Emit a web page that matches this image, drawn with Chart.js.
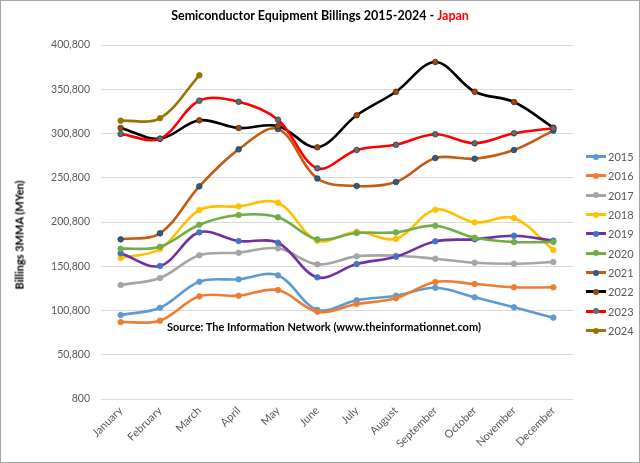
<!DOCTYPE html>
<html>
<head>
<meta charset="utf-8">
<script src="https://cdn.jsdelivr.net/npm/chart.js@4.4.1/dist/chart.umd.min.js"></script>
<style>
    html, body { margin: 0; padding: 0; background: #fff; }
    #wrap { position: relative; width: 640px; height: 463px; overflow: hidden; font-family: Lato, "Open Sans", sans-serif; }
    #chart { position: absolute; left: 0; top: 0; }
    #frame { position: absolute; left: 0; top: 0; width: 640px; height: 463px; box-sizing: border-box; border: 1px solid #a6a6a6; pointer-events: none; }
    #title { position: absolute; left: 0; width: 640px; top: 8px; text-align: center; font-weight: bold; font-size: 12.5px; color: #000; }
    #title .red { color: #ff0000; }
    #source { position: absolute; left: 0; width: 648px; top: 320px; text-align: center; font-weight: bold; font-size: 11px; color: #000; }
    #ytitle { position: absolute; left: 19px; top: 235px; transform: translate(-50%, -50%) rotate(-90deg); white-space: nowrap; font-weight: bold; font-size: 11px; color: #000; }
    #legend { position: absolute; left: 586px; top: 147px; }
    .item { height: 19.33px; display: flex; align-items: center; font-size: 11px; color: #595959; }
    .mark { position: relative; width: 20px; height: 3px; margin-right: 2px; }
    .mark .dot { position: absolute; left: 7px; top: -1.5px; width: 6px; height: 6px; border-radius: 50%; }
</style>
</head>
<body>
<div id="wrap">
    <canvas id="chart" width="640" height="463"></canvas>
    <div id="title">Semiconductor Equipment Billings 2015-2024 - <span class="red">Japan</span></div>
    <div id="source">Source: The Information Network (www.theinformationnet.com)</div>
    <div id="ytitle">Billings 3MMA (MYen)</div>
    <div id="legend"></div>
    <div id="frame"></div>
</div>
<script>
// ─── DATA ────────────────────────────────────────────────────────────────────

const months = ["January", "February", "March", "April", "May", "June",
                "July", "August", "September", "October", "November", "December"];

const years = ["2015", "2016", "2017", "2018", "2019", "2020", "2021", "2022", "2023", "2024"];

const y2015 = [95700, 103900, 133300, 136000, 140500, 101500, 112300, 117500, 126500, 115700, 104400, 92700];
const y2016 = [87800, 89300, 116800, 117500, 123900, 99400, 108100, 114600, 133000, 130700, 127000, 127000];
const y2017 = [129600, 137600, 163200, 166100, 171100, 153000, 162000, 162700, 159300, 154800, 153700, 155600];
const y2018 = [160100, 170300, 214300, 218500, 222600, 179700, 189800, 181900, 214700, 200400, 205300, 169100];
const y2019 = [165400, 151100, 189100, 179300, 177400, 138300, 153300, 161600, 179000, 181200, 185300, 179700];
const y2020 = [170600, 172900, 197700, 208700, 206100, 181200, 188400, 189100, 196600, 183000, 178200, 178200];
const y2021 = [181200, 188000, 241100, 282900, 305900, 250000, 241500, 246000, 273100, 272300, 282100, 304000];
const y2022 = [307000, 294900, 315700, 307000, 309300, 285200, 321400, 348000, 381600, 348000, 336400, 307400];
const y2023 = [300200, 294900, 337900, 336700, 316400, 261500, 282200, 288100, 299900, 289700, 301000, 306700];
const y2024 = [315300, 318000, 366600, null, null, null, null, null, null, null, null, null];

const yTicks = [800, 50800, 100800, 150800, 200800, 250800, 300800, 350800, 400800];

// line colour / marker colour per year
const lineColors  = ["#5b9bd5", "#ed7d31", "#a5a5a5", "#ffc000", "#7030a0", "#70ad47", "#c55a11", "#000000", "#ff0000", "#997300"];
const pointColors = ["#5b9bd5", "#ed7d31", "#a5a5a5", "#ffc000", "#4472c4", "#70ad47", "#255e91", "#9e480e", "#636a75", "#997300"];

const series = [y2015, y2016, y2017, y2018, y2019, y2020, y2021, y2022, y2023, y2024];

// ─── CHART ───────────────────────────────────────────────────────────────────

const tickFont = { family: "Lato, 'Open Sans', sans-serif", size: 10.5 };

const datasets = years.map((yr, i) => ({
    label: yr,
    data: series[i],
    borderColor: lineColors[i],
    backgroundColor: pointColors[i],
    pointBackgroundColor: pointColors[i],
    pointBorderColor: i === 7 ? "#5a2a08" : (i === 8 || i === 6 ? "#3a3a3a" : pointColors[i]),
    pointBorderWidth: 0.8,
    pointRadius: 2.8,
    borderWidth: 2.6,
    tension: 0.35,
    fill: false,
    spanGaps: false,
    order: years.length - i      // later years drawn on top, like the original
}));

new Chart(document.getElementById("chart"), {
    type: "line",
    data: { labels: months, datasets },
    options: {
        responsive: false,
        animation: false,
        layout: { padding: { top: 45, right: 67, bottom: 0, left: 0 } },
        plugins: {
            legend: { display: false },
            title: { display: false },
            tooltip: { enabled: false }
        },
        scales: {
            x: {
                offset: true,
                grid: { display: false, drawTicks: false },
                border: { display: false },
                ticks: {
                    color: "#595959", font: { family: tickFont.family, size: 11 },
                    minRotation: 45, maxRotation: 45, padding: 5, autoSkip: false
                },
                afterFit: s => { s.height = 64; }
            },
            y: {
                min: yTicks[0],
                max: yTicks[yTicks.length - 1],
                grid: { color: "#d9d9d9", lineWidth: 1, drawTicks: false },
                border: { display: false },
                ticks: {
                    stepSize: yTicks[1] - yTicks[0],
                    color: "#595959", font: tickFont, padding: 11,
                    callback: v => v.toLocaleString("en-US")
                },
                afterFit: s => { s.width = 101; }
            }
        }
    }
});

// ─── LEGEND ──────────────────────────────────────────────────────────────────

const legendEl = document.getElementById("legend");
years.forEach((yr, i) => {
    const item = document.createElement("div");
    item.className = "item";
    item.innerHTML = `<span class="mark" style="background:${lineColors[i]}">`
        + `<span class="dot" style="background:${pointColors[i]}"></span></span>${yr}`;
    legendEl.appendChild(item);
});
</script>
</body>
</html>
